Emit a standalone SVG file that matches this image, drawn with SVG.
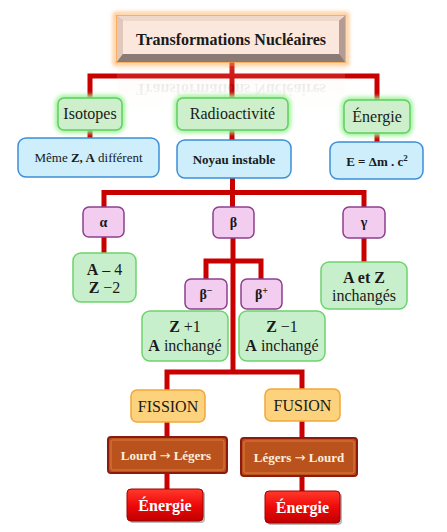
<svg xmlns="http://www.w3.org/2000/svg" width="447" height="532" viewBox="0 0 447 532" font-family="'Liberation Serif', 'Times New Roman', Times, serif">
<style>
text{text-anchor:middle;fill:#1a1a1a}
.b{font-weight:bold}
.green{fill:#cdefcb;stroke:#5fd05f;stroke-width:1.5}
.glow{fill:none;stroke:#9ef29a;stroke-width:6;filter:url(#blur)}
.blue{fill:#cdeefa;stroke:#3b8fd9;stroke-width:1.5}
.pink{fill:#f2cdf0;stroke:#8e3f8e;stroke-width:1.5}
.mint{fill:#c7efcb;stroke:#6dd46d;stroke-width:1.5}
.orange{fill:#fdd27c;stroke:#f2a73a;stroke-width:1.5}
.brown{fill:#b9521c;stroke:#8c1a0e;stroke-width:2}
.brin{fill:none;stroke:#e07a3a;stroke-width:1}
.red{fill:url(#redg);stroke:#a00000;stroke-width:1}
.conn{fill:none;stroke:#c80000;stroke-width:5;stroke-linejoin:miter}
.w{fill:#fff}
.cream{fill:#fbeede}
.arr{font-family:"DejaVu Sans",sans-serif;font-weight:normal}
</style>
<defs>
<filter id="blur" x="-20%" y="-30%" width="140%" height="160%"><feGaussianBlur stdDeviation="2"/></filter>
<linearGradient id="redg" x1="0" y1="0" x2="0" y2="1"><stop offset="0" stop-color="#ff3a2a"/><stop offset="0.5" stop-color="#ee0a0a"/><stop offset="1" stop-color="#c00000"/></linearGradient>
<linearGradient id="fade" x1="0" y1="0" x2="0" y2="1"><stop offset="0" stop-color="#fff" stop-opacity="0.16"/><stop offset="1" stop-color="#fff" stop-opacity="0"/></linearGradient>
<mask id="fm"><rect x="100" y="62" width="260" height="50" fill="url(#fade)"/></mask>
</defs>

<g id="connectors">
<path class="conn" d="M232 62V76"/>
<path class="conn" d="M90 98V76H377V100"/>
<path class="conn" d="M232 76V98"/>
<path class="conn" d="M90 130V138"/>
<path class="conn" d="M232 130V140"/>
<path class="conn" d="M377 133V142"/>
<path class="conn" d="M232.5 178V207"/>
<path class="conn" d="M104 207V192.5H364V207"/>
<path class="conn" d="M104 237V253"/>
<path class="conn" d="M364 238V262"/>
<path class="conn" d="M233 238V372"/>
<path class="conn" d="M206 279V261H261V279"/>
<path class="conn" d="M167 390V372H302V389"/>
<path class="conn" d="M167 422V437"/>
<path class="conn" d="M167 473V489"/>
<path class="conn" d="M302 421V438"/>
<path class="conn" d="M302 476V491"/>
</g>

<g id="reflection" mask="url(#fm)">
<g transform="translate(0,130) scale(1,-1)">
<rect x="117" y="16" width="228" height="46" fill="#fde3d6"/>
<text x="231" y="46" class="b" font-size="16" fill="#777">Transformations Nucléaires</text>
</g>
</g>

<g id="title">
<rect x="115" y="14" width="232" height="50" fill="none" stroke="#ffb060" stroke-width="3" filter="url(#blur)"/>
<rect x="117" y="16" width="228" height="46" fill="#9a8680" stroke="#f6a045" stroke-width="1.5"/>
<polygon points="117,16 345,16 339,21 123,21" fill="#eed8cc"/>
<polygon points="117,16 123,21 123,54 117,62" fill="#e2c8bc"/>
<polygon points="345,16 339,21 339,54 345,62" fill="#b59c92"/>
<polygon points="117,62 123,54 339,54 345,62" fill="#8c7a74"/>
<rect x="123" y="21" width="216" height="33" fill="#fce7dc"/>
<text x="231" y="45" class="b" font-size="16">Transformations Nucléaires</text>
</g>

<g id="isotopes">
<rect class="glow" x="58" y="98" width="64" height="32" rx="6"/>
<rect class="green" x="58" y="98" width="64" height="32" rx="6"/>
<text x="90" y="119" font-size="16">Isotopes</text>
</g>
<g id="radioactivite">
<rect class="glow" x="177" y="98" width="111" height="32" rx="6"/>
<rect class="green" x="177" y="98" width="111" height="32" rx="6"/>
<text x="232.5" y="119" font-size="16">Radioactivité</text>
</g>
<g id="energie">
<rect class="glow" x="344" y="100" width="66" height="33" rx="6"/>
<rect class="green" x="344" y="100" width="66" height="33" rx="6"/>
<text x="377" y="122" font-size="16">Énergie</text>
</g>

<g id="meme">
<rect class="blue" x="18" y="138" width="141" height="39" rx="8"/>
<text x="88.5" y="162" font-size="13">Même <tspan class="b">Z, A</tspan> différent</text>
</g>
<g id="noyau">
<rect class="blue" x="177" y="140" width="114" height="38" rx="8"/>
<text x="234" y="164" class="b" font-size="13">Noyau instable</text>
</g>
<g id="emc">
<rect class="blue" x="330" y="142" width="93" height="37" rx="8"/>
<text x="377" y="166" class="b" font-size="13">E = Δm . c<tspan font-size="9" dy="-5">2</tspan></text>
</g>

<g id="alpha">
<rect class="pink" x="83" y="207" width="41" height="30" rx="6"/>
<text x="103.5" y="227" class="b" font-size="14">α</text>
</g>
<g id="beta">
<rect class="pink" x="213" y="207" width="41" height="31" rx="6"/>
<text x="233.5" y="227" class="b" font-size="14">β</text>
</g>
<g id="gamma">
<rect class="pink" x="343" y="207" width="42" height="31" rx="6"/>
<text x="364" y="227" class="b" font-size="14">γ</text>
</g>

<g id="alpha-result">
<rect class="mint" x="73" y="253" width="63" height="49" rx="8"/>
<text x="104.5" y="275" font-size="16"><tspan class="b">A</tspan> – 4</text>
<text x="104.5" y="293" font-size="16"><tspan class="b">Z</tspan> −2</text>
</g>
<g id="gamma-result">
<rect class="mint" x="321" y="262" width="86" height="47" rx="8"/>
<text x="364" y="283" class="b" font-size="16">A et Z</text>
<text x="364" y="301" font-size="16">inchangés</text>
</g>

<g id="beta-minus">
<rect class="pink" x="185" y="279" width="42" height="30" rx="6"/>
<text x="206" y="299" class="b" font-size="14">β<tspan font-size="10" dy="-5">−</tspan></text>
</g>
<g id="beta-plus">
<rect class="pink" x="241" y="279" width="41" height="30" rx="6"/>
<text x="261.5" y="299" class="b" font-size="14">β<tspan font-size="10" dy="-5">+</tspan></text>
</g>

<g id="beta-minus-result">
<rect class="mint" x="142" y="311" width="86" height="50" rx="8"/>
<text x="185" y="332" font-size="16"><tspan class="b">Z</tspan> +1</text>
<text x="185" y="351" font-size="16"><tspan class="b">A</tspan> inchangé</text>
</g>
<g id="beta-plus-result">
<rect class="mint" x="239" y="311" width="86" height="50" rx="8"/>
<text x="282" y="332" font-size="16"><tspan class="b">Z</tspan> −1</text>
<text x="282" y="351" font-size="16"><tspan class="b">A</tspan> inchangé</text>
</g>

<g id="fission">
<rect class="orange" x="131" y="390" width="74" height="32" rx="6"/>
<text x="168" y="412" font-size="16">FISSION</text>
</g>
<g id="fusion">
<rect class="orange" x="265" y="389" width="75" height="32" rx="6"/>
<text x="302.5" y="411" font-size="16">FUSION</text>
</g>

<g id="lourd-legers">
<rect class="brown" x="108" y="437" width="119" height="36" rx="3"/>
<rect class="brin" x="111" y="440" width="113" height="30" rx="2"/>
<text x="166" y="460" class="b cream" font-size="13">Lourd <tspan class="arr">→</tspan> Légers</text>
</g>
<g id="legers-lourd">
<rect class="brown" x="241" y="438" width="116" height="38" rx="3"/>
<rect class="brin" x="244" y="441" width="110" height="32" rx="2"/>
<text x="299" y="462" class="b cream" font-size="13">Légers <tspan class="arr">→</tspan> Lourd</text>
</g>

<g id="energie-fission">
<rect x="129" y="491" width="76" height="32" rx="4" fill="#8a8a8a" opacity="0.6"/>
<rect class="red" x="127" y="489" width="76" height="32" rx="4"/>
<text x="165" y="511" class="b w" font-size="16">Énergie</text>
</g>
<g id="energie-fusion">
<rect x="267" y="493" width="75" height="32" rx="4" fill="#8a8a8a" opacity="0.6"/>
<rect class="red" x="265" y="491" width="75" height="32" rx="4"/>
<text x="302.5" y="513" class="b w" font-size="16">Énergie</text>
</g>
</svg>
